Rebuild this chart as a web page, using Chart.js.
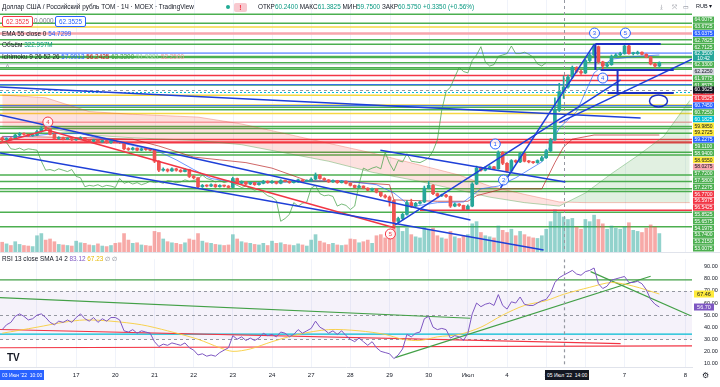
<!DOCTYPE html>
<html>
<head>
<meta charset="utf-8">
<script src="https://cdn.jsdelivr.net/npm/chart.js@4.4.1/dist/chart.umd.min.js"></script>
<style>
  body { margin: 0; width: 720px; height: 387px; overflow: hidden; background: #fff; position: relative;
         font-family: "Liberation Sans", Arial, sans-serif; color: #131722; }
  canvas { position: absolute; left: 0; }
  #main { top: 0; }
  #rsi { top: 252px; }
  .t { position: absolute; font-size: 6.4px; white-space: nowrap; line-height: 8px; }
  .g { color: #089981; }
  .box { position: absolute; font-size: 6.4px; line-height: 9px; padding: 0 3px; border-radius: 2px; background: #fff; }
  .tag { position: absolute; top: 370px; height: 10px; color: #fff; font-size: 5px; line-height: 10px;
         padding: 0 2px; white-space: nowrap; overflow: hidden; }
</style>
</head>
<body>
<canvas id="main" width="720" height="252"></canvas>
<canvas id="rsi" width="720" height="135"></canvas>

<div style="position:absolute;left:0;top:252px;width:720px;height:1px;background:#e0e3eb"></div>

<div class="t" style="left:2px;top:3px">Доллар США / Российский рубль TOM · 1Ч · MOEX · TradingView</div>
<div style="position:absolute;left:226px;top:5px;width:4px;height:4px;border-radius:2px;background:#22ab94"></div>
<div style="position:absolute;left:234px;top:3px;width:13px;height:9px;border-radius:2px;background:#f8c8cf;color:#f23645;font-size:7px;line-height:9px;text-align:center;font-weight:bold">!</div>
<div class="t" style="left:258px;top:3px">ОТКР<span class="g">60.2400</span> МАКС<span class="g">61.3825</span> МИН<span class="g">59.7500</span> ЗАКР<span class="g">60.5750</span> <span class="g">+0.3350 (+0.56%)</span></div>

<div class="box" style="left:2px;top:16px;border:1px solid #f23645;color:#f23645">62.3525</div>
<div class="t" style="left:34px;top:17px;color:#787b86">0.0000</div>
<div class="box" style="left:55px;top:16px;border:1px solid #2962ff;color:#2962ff">62.3525</div>
<div class="t" style="left:2px;top:30px">EMA 55 close 0 <span style="color:#2962ff">54.7299</span></div>
<div class="t" style="left:2px;top:41px">Объём <span class="g">322.997M</span></div>
<div class="t" style="left:2px;top:53px">Ichimoku 9 26 52 26 <span style="color:#2962ff">57.9913</span> <span style="color:#b71c1c">56.2425</span> <span style="color:#43a047">62.3300</span> <span style="color:#a5d6a7">51.9381</span> <span style="color:#ef9a9a">52.2500</span></div>
<div class="t" style="left:6px;top:63px;color:#787b86">^</div>

<div class="t" style="left:660px;top:3px;color:#787b86">⤓</div>
<div class="t" style="left:672px;top:3px;color:#787b86">⤧</div>
<div class="t" style="left:683px;top:3px;color:#787b86">▭</div>
<div class="t" style="left:696px;top:2px;font-size:5.5px">RUB ▾</div>

<div class="t" style="left:2px;top:255px">RSI 13 close SMA 14 2 <span style="color:#7e57c2">83.12</span> <span style="color:#e6b800">67.23</span> <span style="color:#787b86">∅ ∅</span></div>

<div style="position:absolute;left:7px;top:352px;font-size:10px;font-weight:bold;color:#131722">TV</div>
<div class="tag" style="left:0;width:40px;background:#2962ff">03 Июн '22&nbsp; 10:00</div>
<div class="tag" style="left:545px;width:40px;background:#131722">05 Июл '22&nbsp; 14:00</div>
<div style="position:absolute;left:702px;top:371px;font-size:8px;color:#131722">⚙</div>

<script>
// ---- time layout: one slot per hourly candle (9 candles per trading day) ----
const dayStarts = [8, 17, 26, 35, 44, 53, 62, 71, 80, 89, 98, 107, 116, 125, 134, 143, 157];
const dayLabels = ['16', '17', '20', '21', '22', '23', '24', '27', '28', '29', '30', 'Июл', '4', '5', '6', '7', '8'];
const hoverIndex = 129;        // 05 Июл '22 14:00
const crossPrice = 60.3625;

// ---- candles, 15 Jun 11:00 .. 7 Jul (one row per day) ----
const opens = [
  56.90, 56.75, 56.85, 56.80, 57.10, 57.20, 57.15, 57.05,
  57.10, 57.35, 57.60, 57.55, 57.15, 56.85, 56.90, 56.80, 56.85,
  56.75, 56.80, 56.90, 56.70, 56.65, 56.75, 56.60, 56.70, 56.55,
  56.65, 56.60, 56.55, 56.10, 56.05, 56.15, 56.00, 56.10, 56.05,
  56.00, 55.20, 54.55, 54.60, 54.50, 54.65, 54.55, 54.45, 54.60,
  54.10, 54.00, 53.35, 53.45, 53.40, 53.50, 53.35, 53.45, 53.40,
  53.30, 53.95, 53.60, 53.70, 53.55, 53.65, 53.50, 53.60, 53.75,
  53.65, 53.70, 53.60, 53.80, 53.75, 53.65, 53.70, 53.85, 53.75,
  53.80, 53.90, 54.20, 53.95, 53.85, 53.70, 53.80, 53.65, 53.75,
  53.60, 53.45, 53.30, 53.40, 53.25, 53.10, 53.20, 52.95, 52.70,
  52.60, 52.35, 50.85, 51.05, 51.35, 52.20, 51.95, 52.15, 52.25,
  53.25, 53.45, 52.85, 52.70, 52.75, 52.65, 51.95, 52.10, 52.00,
  51.70, 51.95, 53.55, 54.70, 54.55, 54.70, 54.80, 54.65, 55.85,
  55.05, 54.50, 55.25, 55.15, 55.75, 55.20, 55.15, 55.10, 55.25,
  55.45, 55.95, 56.75, 58.90, 60.24, 60.575, 61.30, 62.00, 61.70,
  61.60, 62.50, 62.90, 63.50, 62.40, 62.10, 62.20, 62.80, 62.90,
  63.00, 63.55, 63.00, 63.00, 63.10, 62.95, 62.75, 62.25, 62.10
];
const highs = [
  56.95, 56.90, 56.92, 57.15, 57.28, 57.25, 57.18, 57.15,
  57.45, 57.75, 57.70, 57.58, 57.20, 56.98, 56.95, 56.90, 56.88,
  56.88, 56.98, 56.92, 56.76, 56.80, 56.78, 56.74, 56.72, 56.70,
  56.72, 56.64, 56.58, 56.18, 56.22, 56.18, 56.16, 56.14, 56.10,
  56.02, 55.25, 54.72, 54.66, 54.72, 54.70, 54.60, 54.66, 54.62,
  54.18, 54.02, 53.52, 53.50, 53.56, 53.54, 53.50, 53.48, 53.44,
  54.05, 53.98, 53.78, 53.72, 53.70, 53.68, 53.66, 53.82, 53.78,
  53.80, 53.74, 53.86, 53.84, 53.78, 53.75, 53.90, 53.88, 53.86,
  54.00, 54.35, 54.24, 54.00, 53.88, 53.85, 53.82, 53.80, 53.78,
  53.64, 53.48, 53.46, 53.42, 53.28, 53.26, 53.22, 52.98, 52.78,
  52.68, 52.40, 51.15, 51.45, 52.35, 52.45, 52.22, 52.32, 53.40,
  53.75, 53.50, 52.90, 52.82, 52.80, 52.68, 52.18, 52.14, 52.02,
  52.05, 53.65, 54.85, 54.78, 54.80, 54.88, 54.84, 55.95, 55.90,
  55.10, 55.32, 55.30, 55.85, 55.78, 55.26, 55.20, 55.30, 55.55,
  56.05, 56.85, 59.80, 60.85, 61.3825, 61.45, 62.10, 62.05, 61.80,
  62.60, 63.05, 63.65, 63.55, 62.45, 62.30, 62.90, 63.00, 63.10,
  63.60, 63.70, 63.10, 63.18, 63.12, 62.98, 62.78, 62.30, 62.40
];
const lows = [
  56.65, 56.70, 56.72, 56.78, 57.05, 57.08, 56.98, 57.00,
  57.05, 57.30, 57.45, 57.10, 56.80, 56.78, 56.75, 56.76, 56.70,
  56.70, 56.76, 56.66, 56.58, 56.60, 56.55, 56.56, 56.50, 56.50,
  56.55, 56.48, 56.02, 55.98, 56.00, 55.95, 55.96, 55.99, 55.94,
  55.10, 54.45, 54.48, 54.42, 54.46, 54.48, 54.40, 54.42, 54.02,
  53.92, 53.28, 53.30, 53.34, 53.36, 53.30, 53.32, 53.34, 53.25,
  53.28, 53.55, 53.56, 53.50, 53.50, 53.45, 53.46, 53.56, 53.60,
  53.60, 53.55, 53.56, 53.70, 53.60, 53.62, 53.66, 53.70, 53.72,
  53.76, 53.86, 53.90, 53.80, 53.66, 53.66, 53.60, 53.62, 53.56,
  53.40, 53.25, 53.26, 53.20, 53.05, 53.06, 52.90, 52.62, 52.52,
  51.95, 50.50, 50.70, 50.95, 51.30, 51.85, 51.90, 52.08, 52.20,
  53.20, 52.78, 52.62, 52.64, 52.58, 51.85, 51.90, 51.92, 51.62,
  51.65, 51.90, 53.50, 54.48, 54.50, 54.64, 54.58, 54.62, 54.95,
  54.40, 54.45, 55.08, 55.10, 55.15, 55.08, 55.04, 55.05, 55.20,
  55.40, 55.90, 56.70, 58.80, 59.75, 60.50, 61.20, 61.60, 61.50,
  61.55, 62.40, 62.85, 62.30, 61.85, 62.00, 62.15, 62.75, 62.85,
  62.95, 62.95, 62.90, 62.95, 62.90, 62.70, 62.18, 62.00, 62.05
];
const closes = [
  56.75, 56.85, 56.80, 57.10, 57.20, 57.15, 57.05, 57.10,
  57.35, 57.60, 57.55, 57.15, 56.85, 56.90, 56.80, 56.85, 56.75,
  56.80, 56.90, 56.70, 56.65, 56.75, 56.60, 56.70, 56.55, 56.65,
  56.60, 56.55, 56.10, 56.05, 56.15, 56.00, 56.10, 56.05, 56.00,
  55.20, 54.55, 54.60, 54.50, 54.65, 54.55, 54.45, 54.60, 54.10,
  54.00, 53.35, 53.45, 53.40, 53.50, 53.35, 53.45, 53.40, 53.30,
  53.95, 53.60, 53.70, 53.55, 53.65, 53.50, 53.60, 53.75, 53.65,
  53.70, 53.60, 53.80, 53.75, 53.65, 53.70, 53.85, 53.75, 53.80,
  53.90, 54.20, 53.95, 53.85, 53.70, 53.80, 53.65, 53.75, 53.60,
  53.45, 53.30, 53.40, 53.25, 53.10, 53.20, 52.95, 52.70, 52.60,
  52.35, 50.85, 51.05, 51.35, 52.20, 51.95, 52.15, 52.25, 53.25,
  53.45, 52.85, 52.70, 52.75, 52.65, 51.95, 52.10, 52.00, 51.70,
  51.95, 53.55, 54.70, 54.55, 54.70, 54.80, 54.65, 55.85, 55.05,
  54.50, 55.25, 55.15, 55.75, 55.20, 55.15, 55.10, 55.25, 55.45,
  55.95, 56.75, 58.90, 60.24, 60.575, 61.30, 62.00, 61.70, 61.60,
  62.50, 62.90, 63.50, 62.40, 62.10, 62.20, 62.80, 62.90, 63.00,
  63.55, 63.00, 63.00, 63.10, 62.95, 62.75, 62.25, 62.10, 62.35
];
// volume, millions
const volumes = [
  90, 75, 60, 95, 70, 60, 55, 50,
  150, 170, 110, 120, 95, 70, 65, 60, 55,
  100, 85, 80, 65, 60, 75, 55, 50, 60,
  80, 85, 170, 110, 80, 85, 65, 60, 55,
  190, 180, 120, 95, 85, 80, 70, 85, 120,
  110, 170, 100, 85, 80, 70, 65, 60, 65,
  160, 120, 95, 85, 80, 70, 65, 80, 60,
  100, 80, 85, 70, 65, 60, 75, 65, 55,
  110, 160, 100, 85, 70, 80, 65, 60, 65,
  120, 115, 85, 95, 110, 80, 150, 160, 130,
  190, 360, 240, 190, 220, 160, 140, 130, 230,
  200, 220, 150, 130, 120, 190, 140, 125, 150,
  160, 260, 280, 180, 150, 140, 130, 240, 200,
  180, 210, 150, 190, 160, 140, 130, 125, 150,
  210, 280, 390, 360, 323, 300, 310, 230, 210,
  300, 280, 340, 300, 260, 210, 240, 220, 210,
  230, 270, 200, 190, 180, 220, 250, 230, 170
];

// ---- Ichimoku (at sample bars) ----
const tenkanX = [0, 6, 12, 18, 24, 30, 36, 40, 44, 48, 54, 62, 70, 78, 86, 90, 94, 100, 106, 110, 114, 118, 124, 128, 132, 136, 140, 146, 151];
const tenkanY = [56.95, 57.0, 57.2, 57.2, 56.75, 56.35, 55.9, 55.3, 54.6, 53.95, 53.65, 53.65, 53.75, 53.8, 53.5, 52.9, 51.9, 52.2, 52.25, 53.2, 53.4, 54.0, 55.15, 57.6, 58.8, 61.6, 62.6, 62.8, 62.9];
const kijunX = [0, 20, 30, 36, 44, 50, 56, 62, 70, 80, 89, 90, 100, 107, 109, 115, 124, 127, 129, 131, 136, 151];
const kijunY = [57.0, 56.9, 56.8, 56.3, 55.5, 55.3, 55.1, 54.7, 53.8, 53.7, 53.5, 52.4, 52.3, 52.3, 52.7, 53.2, 53.2, 55.1, 56.24, 56.8, 57.1, 57.1];
const cloudX = [0, 10, 20, 30, 45, 55, 65, 75, 85, 95, 105, 112, 120, 128, 134, 140, 146, 152, 158];
const spanA = [57.7, 57.6, 57.1, 56.9, 56.7, 56.4, 55.8, 55.2, 54.4, 53.8, 53.1, 52.6, 52.2, 51.95, 52.9, 54.3, 55.6, 57.0, 59.6];
const spanB = [60.0, 59.8, 58.8, 58.6, 58.4, 57.9, 57.2, 56.5, 55.8, 55.0, 54.2, 53.4, 52.8, 52.25, 52.2, 52.2, 52.2, 52.2, 52.2];

// ---- horizontal levels drawn on the chart (with a label on the price scale) ----
const greenLevels = [64.0075, 63.6725, 62.7825, 62.7125, 62.33, 61.9775, 61.8575, 60.725, 59.11, 58.94, 57.72, 57.58, 57.2275, 55.8525, 55.6575, 54.1975, 53.74, 53.215, 53.0075];
const redLevels = [61.41, 61.0525, 56.77, 56.5975, 56.5425];
const yellowLevels = [59.985, 59.2725, 58.655];
const blueLevels = [63.0375, 60.745, 59.2275];
const pinkLevels = [58.0275];
const tealLevels = [60.1825];
const greyLevels = [62.225];
// levels without a scale label
const greenPlain = [65.85, 65.2, 51.5, 50.45];
const yellowPlain = [64.93];
const redPlain = [64.45];

// ---- drawings: [bar1, price1, bar2, price2] ----
const blueTrends = [
  [-0.5, 60.58, 146.7, 58.33],
  [-0.5, 58.55, 107.6, 50.94],
  [-0.5, 55.8, 124.4, 48.77],
  [86.9, 56.0, 129.4, 53.7],
  [90.3, 50.58, 142.1, 61.09],
  [114.5, 53.26, 136.1, 63.7],
  [128.0, 58.0, 158.5, 62.6]
];
const blueBox = [
  [136.3, 63.70, 151.3, 63.70],
  [136.3, 63.70, 136.3, 61.81],
  [137.5, 61.81, 154.3, 61.81],
  [141.4, 61.81, 141.4, 60.15],
  [139.1, 60.15, 154.3, 60.15]
];
const blueEllipse = [150.8, 59.57];
const redTrends = [
  [-0.5, 56.52, 10.3, 57.46],
  [10.3, 57.46, 90.3, 50.36],
  [96, 51.65, 158.5, 51.65]
];
// wave marks: [bar, price, text]
const waveRed = [[10.5, 58.04, '4'], [89.2, 49.93, '5']];
const waveBlue = [[113.3, 56.45, '1'], [115.2, 53.84, '2'], [136.1, 64.49, '3'], [138.0, 61.23, '4'], [143.2, 64.49, '5']];

// ---- RSI 13 and its SMA 14 ----
const rsiValues = [
  38, 42, 44, 49, 51, 49, 46, 47,
  50, 51, 48, 44, 42, 45, 44, 46, 44,
  48, 51, 47, 45, 48, 44, 47, 45, 48,
  48, 46, 37, 36, 38, 35, 37, 36, 35,
  28, 24, 26, 25, 27, 26, 25, 27, 23,
  21, 17, 18, 16, 17, 16, 19, 21, 23,
  33, 30, 32, 29, 31, 29, 31, 35, 33,
  34, 32, 36, 35, 32, 34, 38, 35, 37,
  39, 45, 40, 38, 35, 37, 34, 37, 33,
  30, 28, 31, 28, 25, 28, 23, 20, 19,
  18, 14, 17, 22, 34, 32, 35, 36, 47,
  49, 40, 38, 39, 38, 31, 33, 32, 29,
  35, 51, 60, 57, 59, 60, 58, 67, 58,
  55, 61, 60, 65, 59, 58, 58, 60, 62,
  63, 68, 77, 81, 83.12, 85, 87, 84, 83,
  86, 87, 89, 76, 72, 74, 79, 80, 81,
  82, 77, 77, 78, 76, 71, 63, 59, 56.7
];
const smaX = [0, 8, 14, 19, 25, 32, 38, 45, 50, 53, 57, 62, 68, 75, 82, 88, 92, 96, 100, 105, 110, 115, 120, 125, 129, 135, 140, 145, 151];
const smaY = [35, 40, 44, 46, 45, 42, 37, 30, 23, 20, 22, 28, 34, 38, 37, 34, 30, 29, 32, 34, 40, 50, 58, 62, 67.23, 73, 77, 74, 67.46];
const rsiBands = [70, 50, 30];
const rsiGreenLines = [
  [-0.5, 79.1, 158.5, 79.1],
  [-0.5, 64.4, 107.6, 47.4],
  [90.3, 14.8, 149, 82.2],
  [135.2, 86, 158.2, 49.5]
];
const rsiTealLines = [[-0.5, 34.2, 158.5, 34.2]];
const rsiRedLines = [[-0.5, 38.1, 142.1, 26.4], [-0.5, 23.0, 158.5, 24.5]];

// =====================================================================
Chart.defaults.font.family = '"Liberation Sans", Arial, sans-serif';
const UP = '#26a69a', DOWN = '#ef5350';
const isUp = closes.map((c, i) => c >= opens[i]);

function seg(ctx, x1, y1, x2, y2) {
  ctx.beginPath(); ctx.moveTo(x1, y1); ctx.lineTo(x2, y2); ctx.stroke();
}
function drawSegs(chart, list, color, width, yKey) {
  const { ctx } = chart, x = chart.scales.x, y = chart.scales[yKey || 'y'];
  ctx.strokeStyle = color; ctx.lineWidth = width;
  list.forEach(s => seg(ctx, x.getPixelForValue(s[0]), y.getPixelForValue(s[1]), x.getPixelForValue(s[2]), y.getPixelForValue(s[3])));
}

const levelStyles = [
  { values: greenLevels, color: '#4caf50', label: '#4caf50', text: '#fff', width: 1.5 },
  { values: redLevels, color: '#f23645', label: '#f23645', text: '#fff', width: 1.5 },
  { values: yellowLevels, color: '#f5d742', label: '#ffeb3b', text: '#131722', width: 1.5 },
  { values: blueLevels, color: '#2962ff', label: '#2962ff', text: '#fff', width: 1 },
  { values: pinkLevels, color: '#f7a6ad', label: '#f7a6ad', text: '#131722', width: 1.5 },
  { values: tealLevels, color: '#00bcd4', label: '#00bcd4', text: '#fff', width: 1, dash: [2, 2] },
  { values: greyLevels, color: '#c8ccd6', label: '#d1d4dc', text: '#131722', width: 1 }
];
const plainStyles = [
  { values: greenPlain, color: '#4caf50', width: 1.5 },
  { values: yellowPlain, color: '#f5d742', width: 1.5 },
  { values: redPlain, color: '#f7a6ad', width: 2.5 }
];

const mainDecor = {
  id: 'mainDecor',
  beforeDatasetsDraw(chart) {
    const { ctx, chartArea: a, scales: { x, y } } = chart;
    ctx.save();
    ctx.strokeStyle = '#f0f3fa'; ctx.lineWidth = 1;
    dayStarts.forEach(d => { const px = Math.round(x.getPixelForValue(d)) + 0.5; seg(ctx, px, a.top, px, a.bottom); });
    plainStyles.concat(levelStyles).forEach(st => {
      ctx.strokeStyle = st.color; ctx.lineWidth = st.width; ctx.setLineDash(st.dash || []);
      st.values.forEach(p => { const py = y.getPixelForValue(p); seg(ctx, a.left, py, a.right, py); });
    });
    ctx.restore();
  },
  afterDatasetsDraw(chart) {
    const { ctx, chartArea: a, scales: { x, y } } = chart;
    ctx.save();
    ctx.beginPath(); ctx.rect(a.left, a.top, a.right - a.left, a.bottom - a.top); ctx.clip();
    // crosshair
    ctx.strokeStyle = '#9598a1'; ctx.lineWidth = 1; ctx.setLineDash([3, 3]);
    const cx = Math.round(x.getPixelForValue(hoverIndex)) + 0.5;
    seg(ctx, cx, a.top, cx, a.bottom);
    const cy = Math.round(y.getPixelForValue(crossPrice)) + 0.5;
    seg(ctx, a.left, cy, a.right, cy);
    ctx.setLineDash([]);
    drawSegs(chart, redTrends, '#f23645', 1.5);
    drawSegs(chart, blueTrends, '#1e3fd8', 1.5);
    drawSegs(chart, blueBox, '#1b2fc2', 2);
    ctx.strokeStyle = '#1b2fc2'; ctx.lineWidth = 1.5;
    ctx.beginPath();
    ctx.ellipse(x.getPixelForValue(blueEllipse[0]), y.getPixelForValue(blueEllipse[1]), 9, 6, 0, 0, Math.PI * 2);
    ctx.stroke();
    // wave marks
    ctx.font = '6px "Liberation Sans", Arial'; ctx.textAlign = 'center'; ctx.textBaseline = 'middle';
    [[waveRed, '#f23645'], [waveBlue, '#2962ff']].forEach(([list, col]) => list.forEach(w => {
      const px = x.getPixelForValue(w[0]), py = y.getPixelForValue(w[1]);
      ctx.beginPath(); ctx.arc(px, py, 5, 0, Math.PI * 2);
      ctx.fillStyle = 'rgba(255,255,255,0.85)'; ctx.fill();
      ctx.strokeStyle = col; ctx.lineWidth = 1; ctx.stroke();
      ctx.fillStyle = col; ctx.fillText(w[2], px, py + 0.5);
    }));
    ctx.restore();
  },
  afterDraw(chart) {
    const { ctx, chartArea: a, scales: { y } } = chart;
    const items = [];
    levelStyles.forEach(st => st.values.forEach(p => items.push({ p, bg: st.label, fg: st.text, h: 6.8 })));
    const last = closes.length - 1;
    items.push({ p: closes[last], bg: UP, fg: '#fff', h: 11, sub: '10:42' });
    items.forEach(it => { it.y = y.getPixelForValue(it.p); });
    items.sort((m, n) => m.y - n.y);
    let cur = 13;
    items.forEach(it => { it.top = Math.max(it.y - it.h / 2, cur); cur = it.top + it.h; });
    cur = a.bottom;
    for (let k = items.length - 1; k >= 0; k--) { items[k].top = Math.min(items[k].top, cur - items[k].h); cur = items[k].top; }
    ctx.save();
    ctx.font = '5px "Liberation Sans", Arial'; ctx.textAlign = 'center'; ctx.textBaseline = 'middle';
    const bx = a.right + 1, bw = 21;
    items.forEach(it => {
      ctx.fillStyle = it.bg; ctx.fillRect(bx, it.top, bw, it.h - 0.5);
      ctx.fillStyle = it.fg;
      if (it.sub) {
        ctx.fillText(it.p.toFixed(4), bx + bw / 2, it.top + 3);
        ctx.fillText(it.sub, bx + bw / 2, it.top + 8);
      } else {
        ctx.fillText(it.p.toFixed(4), bx + bw / 2, it.top + it.h / 2);
      }
    });
    const cy = y.getPixelForValue(crossPrice);
    ctx.fillStyle = '#131722'; ctx.fillRect(bx, cy - 3.5, bw, 7);
    ctx.fillStyle = '#fff'; ctx.fillText(crossPrice.toFixed(4), bx + bw / 2, cy);
    ctx.restore();
  }
};

const bars = (data, colors, thick, axis, order) => ({
  type: 'bar', data, backgroundColor: colors, barThickness: thick, grouped: false,
  yAxisID: axis, order, minBarLength: 1
});
const line = (data, color, width, order, extra) => Object.assign({
  type: 'line', data, borderColor: color, borderWidth: width, pointRadius: 0, tension: 0, fill: false, order
}, extra || {});

new Chart(document.getElementById('main'), {
  type: 'bar',
  data: {
    datasets: [
      bars(volumes.map((v, i) => ({ x: i, y: v })), isUp.map(u => u ? 'rgba(38,166,154,0.5)' : 'rgba(239,83,80,0.5)'), 3, 'yVol', 20),
      line(cloudX.map((v, i) => ({ x: v, y: spanA[i] })), 'rgba(67,160,71,0.5)', 0.8, 15,
        { fill: { target: '+1', above: 'rgba(67,160,71,0.16)', below: 'rgba(244,67,54,0.16)' } }),
      line(cloudX.map((v, i) => ({ x: v, y: spanB[i] })), 'rgba(244,67,54,0.4)', 0.8, 16),
      line(closes.map((c, i) => ({ x: i - 26, y: c })), 'rgba(67,160,71,0.8)', 0.9, 12),
      line(kijunX.map((v, i) => ({ x: v, y: kijunY[i] })), 'rgba(183,28,28,0.75)', 0.9, 11),
      line(tenkanX.map((v, i) => ({ x: v, y: tenkanY[i] })), 'rgba(41,98,255,0.75)', 0.9, 10),
      bars(closes.map((c, i) => ({ x: i, y: [lows[i], highs[i]] })), isUp.map(u => u ? UP : DOWN), 1, 'y', 2),
      bars(closes.map((c, i) => ({ x: i, y: [opens[i], c] })), isUp.map(u => u ? UP : DOWN), 3, 'y', 1)
    ]
  },
  options: {
    responsive: false, animation: false, events: [],
    layout: { padding: 0 },
    plugins: { legend: { display: false }, tooltip: { enabled: false } },
    scales: {
      x: { type: 'linear', display: false, min: -0.5, max: 158.5, offset: false },
      y: { position: 'right', min: 48.623, max: 66.884, ticks: { display: false }, grid: { display: false },
           border: { display: false }, afterFit: s => { s.width = 28; } },
      yVol: { display: false, min: 0, max: 2325 }
    }
  },
  plugins: [mainDecor]
});

// ---------------- RSI pane ----------------
const rsiDecor = {
  id: 'rsiDecor',
  beforeDatasetsDraw(chart) {
    const { ctx, chartArea: a, scales: { y } } = chart;
    ctx.save();
    ctx.fillStyle = 'rgba(126,87,194,0.08)';
    const y70 = y.getPixelForValue(rsiBands[0]), y30 = y.getPixelForValue(rsiBands[2]);
    ctx.fillRect(a.left, y70, a.right - a.left, y30 - y70);
    ctx.strokeStyle = '#9598a1'; ctx.lineWidth = 1; ctx.setLineDash([3, 3]);
    rsiBands.forEach(v => { const py = Math.round(y.getPixelForValue(v)) + 0.5; seg(ctx, a.left, py, a.right, py); });
    ctx.setLineDash([]);
    ctx.beginPath(); ctx.rect(a.left, a.top, a.right - a.left, a.bottom - a.top); ctx.clip();
    drawSegs(chart, rsiTealLines, '#00bcd4', 1.2);
    drawSegs(chart, rsiRedLines, '#f23645', 1.2);
    drawSegs(chart, rsiGreenLines, '#43a047', 1.2);
    ctx.strokeStyle = '#9598a1'; ctx.setLineDash([3, 3]);
    const cx = Math.round(chart.scales.x.getPixelForValue(hoverIndex)) + 0.5;
    seg(ctx, cx, a.top, cx, a.bottom);
    ctx.restore();
  },
  afterDraw(chart) {
    const { ctx, chartArea: a, scales: { y } } = chart;
    ctx.save();
    ctx.font = '5.5px "Liberation Sans", Arial'; ctx.textAlign = 'center'; ctx.textBaseline = 'middle';
    [[smaY[smaY.length - 1], '#ffeb3b', '#131722'], [rsiValues[rsiValues.length - 1], '#7e57c2', '#fff']].forEach(([v, bg, fg]) => {
      const py = y.getPixelForValue(v);
      ctx.fillStyle = bg; ctx.fillRect(a.right + 2, py - 3.5, 20, 7);
      ctx.fillStyle = fg; ctx.fillText(v.toFixed(2), a.right + 12, py);
    });
    ctx.restore();
  }
};

new Chart(document.getElementById('rsi'), {
  type: 'line',
  data: {
    datasets: [
      line(smaX.map((v, i) => ({ x: v, y: smaY[i] })), 'rgba(247,205,60,0.9)', 1, 2, { tension: 0.3 }),
      line(rsiValues.map((v, i) => ({ x: i, y: v })), '#7e57c2', 1, 1)
    ]
  },
  options: {
    responsive: false, animation: false, events: [],
    layout: { padding: 0 },
    plugins: { legend: { display: false }, tooltip: { enabled: false } },
    scales: {
      x: {
        type: 'linear', min: -0.5, max: 158.5, offset: false,
        afterBuildTicks: s => { s.ticks = dayStarts.map(v => ({ value: v })); },
        ticks: { autoSkip: false, maxRotation: 0, padding: 5, color: '#131722', font: { size: 6 },
                 callback: v => dayLabels[dayStarts.indexOf(v)] },
        grid: { color: '#f0f3fa', drawTicks: false },
        border: { color: '#e0e3eb' },
        afterFit: s => { s.height = 20; }
      },
      y: {
        position: 'right', min: 7.05, max: 96.2,
        afterBuildTicks: s => { s.ticks = [10, 20, 30, 40, 50, 60, 70, 80, 90].map(v => ({ value: v })); },
        ticks: { padding: 4, color: '#131722', font: { size: 5.5 }, callback: v => v.toFixed(2) },
        grid: { display: false }, border: { display: false },
        afterFit: s => { s.width = 28; }
      }
    }
  },
  plugins: [rsiDecor]
});
</script>
</body>
</html>
